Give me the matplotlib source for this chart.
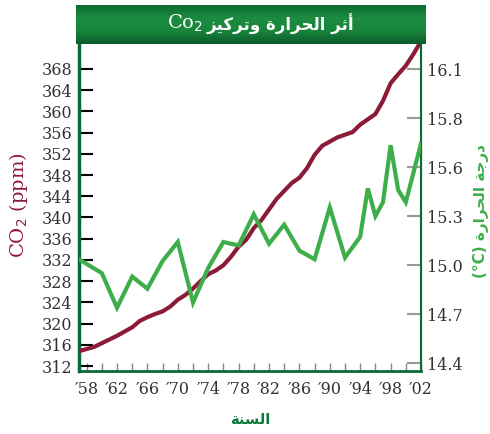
import matplotlib
matplotlib.use('Agg')
import matplotlib.pyplot as plt
from matplotlib.colors import LinearSegmentedColormap
import numpy as np

# ─── data ─────────────────────────────────────────────────────────────────────

co2_years = list(range(1957, 2003))
co2_ppm = [314.8, 315.2, 315.6, 316.3, 317.0, 317.7, 318.5, 319.3, 320.5, 321.2,
           321.8, 322.3, 323.2, 324.5, 325.4, 326.6, 328.0, 329.3, 330.0, 331.0,
           332.6, 334.5, 335.8, 338.0, 339.5, 341.5, 343.5, 345.0, 346.5, 347.5,
           349.3, 351.8, 353.5, 354.3, 355.1, 355.6, 356.1, 357.5, 358.5, 359.5,
           362.0, 365.3, 367.0, 368.6, 370.8, 373.2]

temp_years = [1957, 1960, 1962, 1964, 1966, 1968, 1970, 1972, 1974, 1976, 1978,
              1980, 1982, 1984, 1986, 1988, 1990, 1992, 1994, 1995, 1996, 1997,
              1998, 1999, 2000, 2002]
temp_c = [15.00, 14.92, 14.72, 14.90, 14.83, 14.99, 15.10, 14.75, 14.95, 15.10,
          15.08, 15.26, 15.09, 15.20, 15.05, 15.00, 15.30, 15.01, 15.13, 15.41,
          15.25, 15.33, 15.66, 15.40, 15.33, 15.67]

co2_ticks = list(range(312, 369, 4))
temp_tick_labels = ['14.4', '14.7', '15.0', '15.3', '15.6', '15.8', '16.1']
year_label_ticks = list(range(1958, 2003, 4))

# ─── simple arabic shaping (matplotlib has no bidi / joining) ─────────────────

FORMS = {
    'ا': ('\uFE8D', '\uFE8E', None, None),
    'أ': ('\uFE83', '\uFE84', None, None),
    'د': ('\uFEA9', '\uFEAA', None, None),
    'ر': ('\uFEAD', '\uFEAE', None, None),
    'ز': ('\uFEAF', '\uFEB0', None, None),
    'و': ('\uFEED', '\uFEEE', None, None),
    'ة': ('\uFE93', '\uFE94', None, None),
    'ث': ('\uFE99', '\uFE9A', '\uFE9B', '\uFE9C'),
    'ت': ('\uFE95', '\uFE96', '\uFE97', '\uFE98'),
    'ج': ('\uFE9D', '\uFE9E', '\uFE9F', '\uFEA0'),
    'ح': ('\uFEA1', '\uFEA2', '\uFEA3', '\uFEA4'),
    'س': ('\uFEB1', '\uFEB2', '\uFEB3', '\uFEB4'),
    'ك': ('\uFED9', '\uFEDA', '\uFEDB', '\uFEDC'),
    'ل': ('\uFEDD', '\uFEDE', '\uFEDF', '\uFEE0'),
    'ن': ('\uFEE5', '\uFEE6', '\uFEE7', '\uFEE8'),
    'ي': ('\uFEF1', '\uFEF2', '\uFEF3', '\uFEF4'),
}

def shape(text):
    out = []
    for i, ch in enumerate(text):
        if ch not in FORMS:
            out.append(ch)
            continue
        prev = text[i - 1] if i > 0 else None
        nxt = text[i + 1] if i + 1 < len(text) else None
        iso, fin, ini, med = FORMS[ch]
        j_prev = prev in FORMS and FORMS[prev][2] is not None
        j_next = nxt in FORMS and ini is not None
        if j_prev and j_next:
            out.append(med)
        elif j_prev:
            out.append(fin)
        elif j_next:
            out.append(ini)
        else:
            out.append(iso)
    return ''.join(out)[::-1]

# ─── figure ───────────────────────────────────────────────────────────────────

RED = '#8C1B38'
GREEN = '#3DAE49'
DKGREEN = '#0B6B36'

fig = plt.figure(figsize=(4.9, 4.34), dpi=100)
W, H = 490, 434
ax = fig.add_axes([79 / W, 1 - 371 / H, 342 / W, 327 / H])
ax2 = ax.twinx()

ax.plot(co2_years, co2_ppm, color=RED, linewidth=3.0, solid_capstyle='butt', zorder=3)
ax2.plot(temp_years, temp_c, color=GREEN, linewidth=3.0, solid_joinstyle='miter', zorder=3)

ax.set_xlim(1957, 2002)
ax.set_ylim(311.06, 372.7)
ax2.set_ylim(14.354, 16.245)

serif = 'DejaVu Serif'
ax.set_yticks(co2_ticks)
ax.set_yticklabels([str(v) for v in co2_ticks], fontsize=11.5, family=serif, color='#333333')
ax.tick_params(axis='y', direction='in', length=10, width=1.5, pad=5)
for i, t in enumerate(ax.yaxis.get_major_ticks()):
    t.tick1line.set_color('#555555' if i % 2 == 0 else '#AAAAAA')

ax2.set_yticks(np.linspace(14.4, 16.1, 7))
ax2.set_yticklabels(temp_tick_labels, fontsize=11.5, family=serif, color='#333333')
ax2.tick_params(axis='y', direction='in', length=10, width=1.5, color='#999999', pad=4)

ax.set_xticks(year_label_ticks)
ax.set_xticklabels(['\u2032' + str(y)[2:] for y in year_label_ticks],
                   fontsize=11.5, family=serif, color='#333333')
ax.set_xticks(list(range(1960, 2003, 4)), minor=True)
ax.tick_params(axis='x', which='both', direction='in', length=6, width=1, color='#888888', pad=7)

for a in (ax, ax2):
    a.spines['top'].set_visible(False)
ax.spines['left'].set_color(DKGREEN)
ax.spines['left'].set_linewidth(2.5)
ax.spines['bottom'].set_color(DKGREEN)
ax.spines['bottom'].set_linewidth(2.0)
ax2.spines['left'].set_visible(False)
ax2.spines['bottom'].set_visible(False)
ax2.spines['right'].set_color(DKGREEN)
ax2.spines['right'].set_linewidth(1.5)

# axis titles
fig.text(18 / W, 1 - 205 / H, 'CO$_2$ (ppm)', rotation=90, ha='center', va='center',
         fontsize=14, family=serif, color=RED)
fig.text(481 / W, 1 - 211 / H, '(°C) ' + shape('درجة الحرارة'), rotation=90,
         ha='center', va='center', fontsize=11, fontweight='bold',
         family='DejaVu Sans', color=GREEN)
fig.text(250 / W, 1 - 420 / H, shape('السنة'), ha='center', va='center',
         fontsize=10.5, fontweight='bold', family='DejaVu Sans', color='#0B7A3A')

# title bar
bar = fig.add_axes([76 / W, 1 - 44 / H, 349 / W, 39 / H])
cmap = LinearSegmentedColormap.from_list('bar', ['#0C6A32', '#1C8C40', '#18853C', '#0A5C2C'])
grad = np.linspace(0, 1, 64)[:, None] * np.ones((1, 8))
bar.imshow(grad, cmap=cmap, aspect='auto', extent=(0, 1, 0, 1))
bar.set_axis_off()
bar.text(0.365, 0.52, 'Co$_2$', ha='right', va='center', fontsize=14,
         family=serif, color='white', transform=bar.transAxes)
bar.text(0.375, 0.5, shape('أثر الحرارة وتركيز'), ha='left', va='center', fontsize=12,
         fontweight='bold', family='DejaVu Sans', color='white', transform=bar.transAxes)

fig.savefig('out.png', dpi=100)
